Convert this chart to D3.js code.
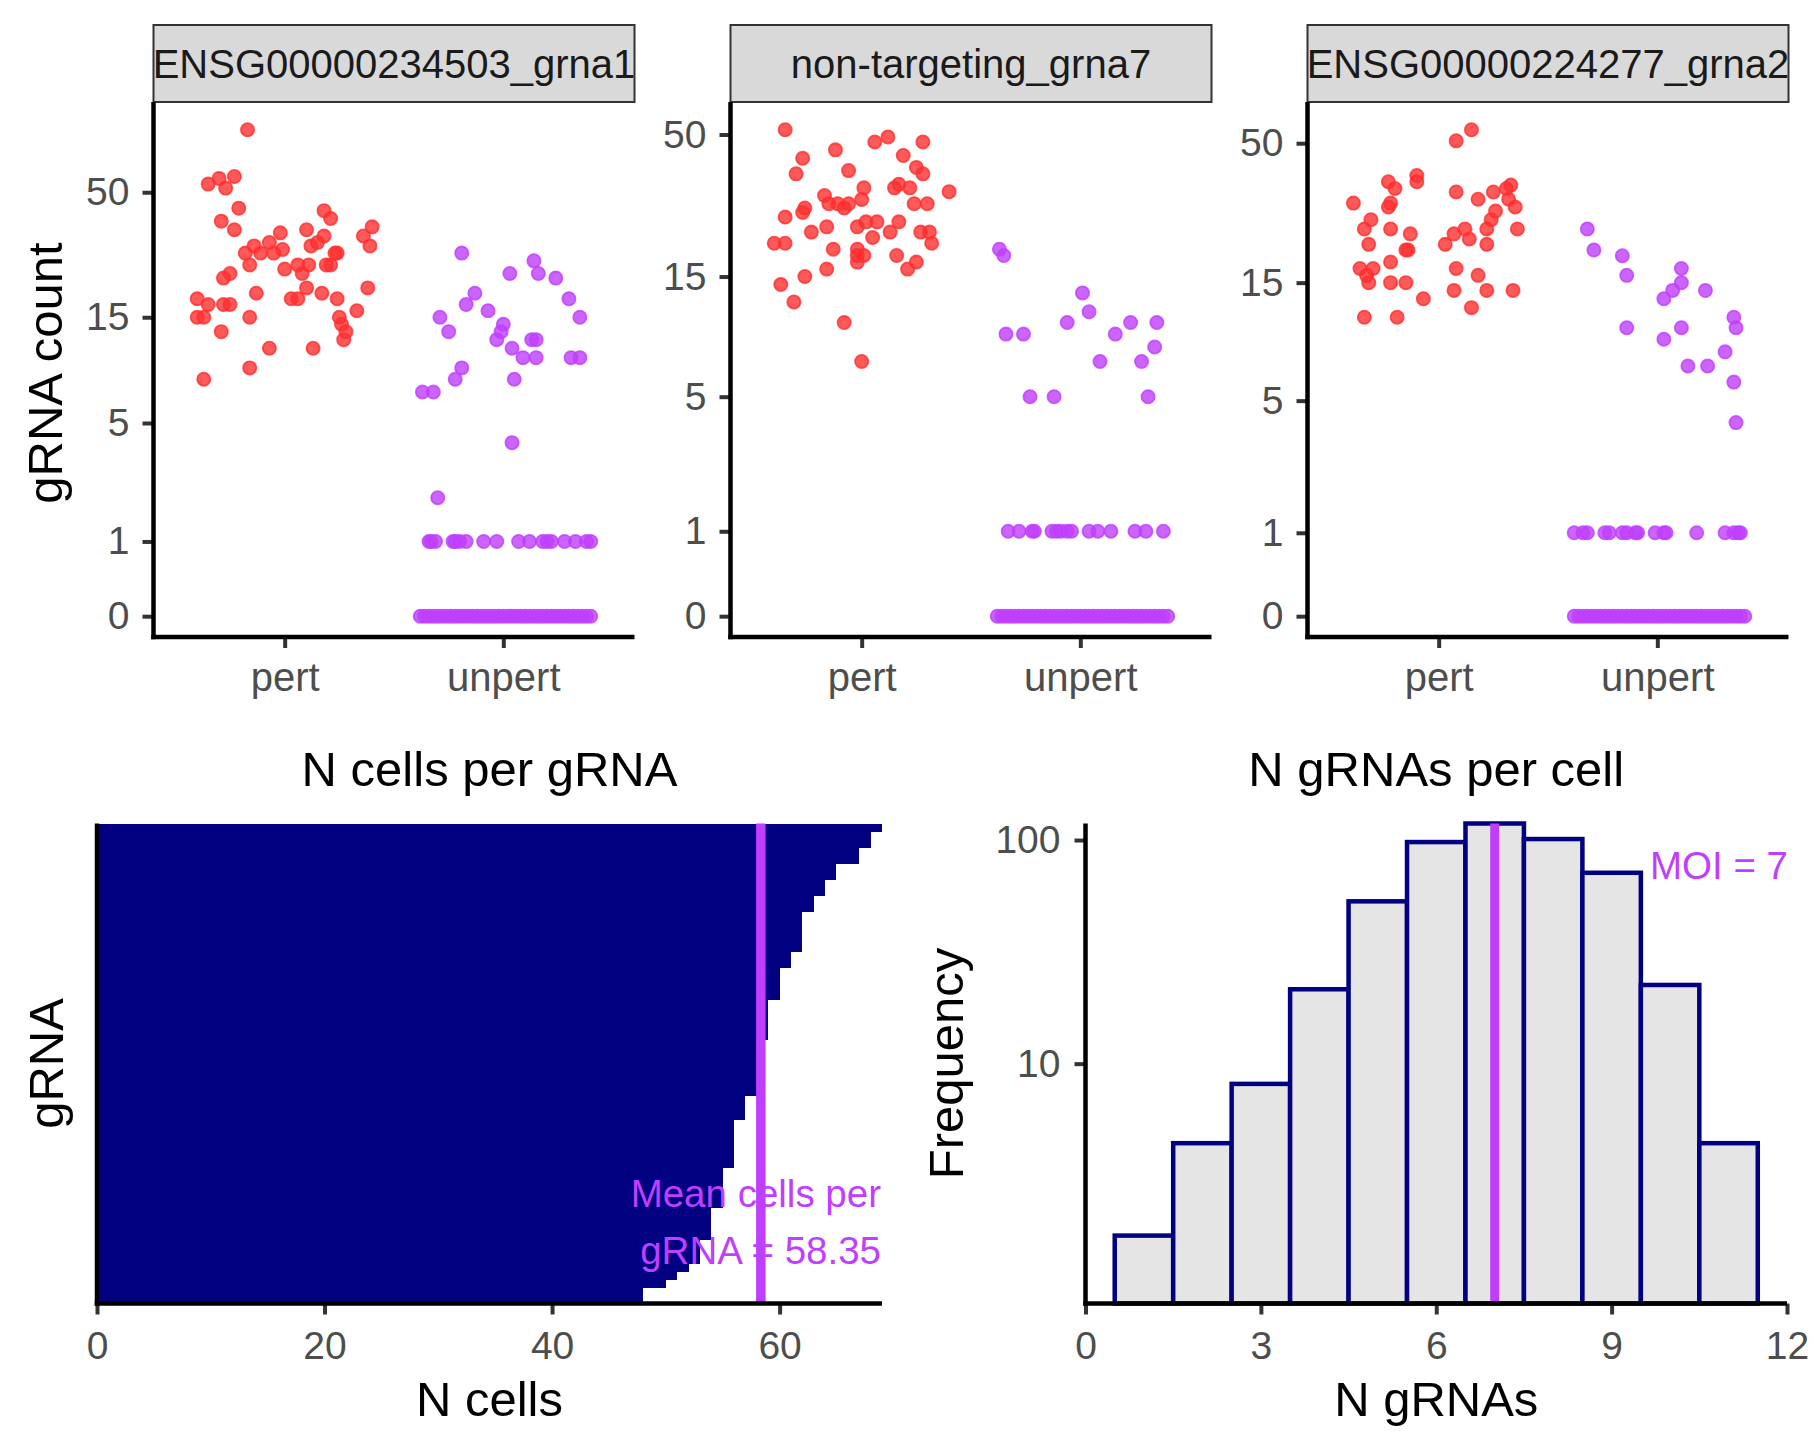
<!DOCTYPE html>
<html><head><meta charset="utf-8">
<script src="https://cdn.jsdelivr.net/npm/d3@7"></script>
<style>
html,body{margin:0;padding:0;background:#fff;}
svg{display:block;font-family:"Liberation Sans", Arial, Helvetica, sans-serif;}
</style></head><body>
<svg id="chart" width="1815" height="1452"></svg>
<script>
// ---------------- DATA ----------------
const facetNames = ["ENSG00000234503_grna1", "non-targeting_grna7", "ENSG00000224277_grna2"];
const groups = ["pert", "unpert"];
const yTickValues = [0, 1, 5, 15, 50];

// Facet 1
const p1PertValues = [90,54,57,58,52,43,38,35,42,39,36,33,30,34,35,33,31,29,30,28,28,28,30,31,28,28,25,25,25,23,24,25,25,22,23,19,20,19,20,18,17,17,17,18,18,18,15,15,15,15,16,14,13,12,13,11,11,9,8];
const p1PertJitter = [-0.17,-0.35,-0.30,-0.23,-0.27,-0.21,-0.29,-0.23,0.18,0.21,0.40,0.36,0.39,-0.02,0.10,0.18,-0.07,-0.01,-0.14,-0.18,-0.11,-0.05,0.12,0.15,0.24,0.23,-0.16,0.06,0.11,0.08,0.00,0.19,0.21,-0.28,-0.25,-0.13,0.10,0.17,0.38,-0.40,-0.35,-0.28,-0.25,0.03,0.06,0.24,-0.40,-0.37,-0.16,0.25,0.33,0.26,0.28,0.27,-0.29,-0.07,0.13,-0.16,-0.37];
const p1UnpertValues = [28,26,23,23,22,19,17,16,18,15,15,13,14,13,12,11,10,10,12,12,10,10,9,8,8,7,7,4,2];
const p1UnpertJitter = [-0.19,0.14,0.16,0.03,0.24,-0.13,-0.17,-0.07,0.30,0.35,-0.29,-0.25,0.00,-0.01,-0.03,0.04,0.09,0.15,0.13,0.15,0.31,0.35,-0.19,-0.22,0.05,-0.37,-0.32,0.04,-0.30];
const p1OnesJitter = [-0.34,-0.33,-0.31,-0.23,-0.22,-0.20,-0.17,-0.09,-0.03,0.07,0.12,0.18,0.20,0.22,0.28,0.33,0.38,0.40];

// Facet 2
const p2PertValues = [52,49,47,47,44,41,42,36,37,38,36,31,32,32,33,32,30,28,28,27,28,29,28,28,27,26,25,23,22,23,24,24,24,22,21,22,22,20,20,20,19,19,18,18,17,18,17,16,16,15,14,12,10,7];
const p2PertJitter = [-0.35,0.12,0.06,0.28,-0.12,-0.27,0.19,-0.30,-0.06,0.25,0.28,0.40,0.01,0.15,0.17,0.22,-0.17,-0.15,-0.11,-0.08,-0.06,0.00,0.24,0.30,-0.26,-0.27,-0.35,-0.16,-0.23,-0.02,0.02,0.07,0.17,0.13,0.05,0.27,0.31,0.32,-0.40,-0.35,-0.13,-0.02,-0.02,0.01,-0.02,0.16,0.25,0.21,-0.16,-0.26,-0.37,-0.31,-0.08,0.00];
const p2UnpertValues = [19,18,13,11,10,10,10,9,9,9,8,7,7,5,5,5];
const p2UnpertJitter = [-0.37,-0.35,0.01,0.04,-0.06,0.23,0.35,-0.34,-0.26,0.16,0.34,0.09,0.28,-0.23,-0.12,0.31];
const p2OnesJitter = [-0.33,-0.28,-0.22,-0.21,-0.13,-0.11,-0.09,-0.06,-0.04,0.04,0.08,0.14,0.25,0.30,0.38];

// Facet 3
const p3PertValues = [56,51,38,36,36,34,33,30,30,29,31,33,34,35,31,29,28,26,24,21,24,26,24,24,23,21,20,20,21,23,24,22,18,17,17,16,15,15,15,17,16,14,14,14,13,12,11,11];
const p3PertJitter = [0.15,0.08,-0.10,-0.10,-0.23,-0.20,0.08,-0.39,-0.22,-0.23,0.18,0.25,0.31,0.33,0.32,0.35,0.26,0.24,0.22,0.22,0.36,-0.31,-0.34,-0.22,-0.13,-0.32,-0.15,-0.14,0.03,0.07,0.12,0.14,-0.22,-0.36,-0.30,-0.33,-0.32,-0.22,-0.15,0.08,0.18,0.07,0.22,0.34,-0.07,0.15,-0.34,-0.19];
const p3UnpertValues = [24,20,19,16,17,15,14,13,14,11,10,10,10,9,8,7,7,6,4];
const p3UnpertJitter = [-0.32,-0.29,-0.16,-0.14,0.11,0.11,0.07,0.03,0.22,0.35,0.36,-0.14,0.11,0.03,0.31,0.14,0.23,0.35,0.36];
const p3OnesJitter = [-0.38,-0.34,-0.32,-0.24,-0.22,-0.16,-0.14,-0.10,-0.09,-0.01,0.03,0.04,0.18,0.31,0.35,0.37,0.38];

// Unperturbed cells with zero count (jittered along the zero line)
const zeroJitter = [-0.38,-0.36,-0.34,-0.32,-0.30,-0.28,-0.26,-0.24,-0.22,-0.20,-0.18,-0.16,-0.14,-0.12,-0.10,-0.08,-0.06,-0.04,-0.02,0.00,0.02,0.04,0.06,0.08,0.10,0.12,0.14,0.16,0.18,0.20,0.22,0.24,0.26,0.28,0.30,0.32,0.34,0.36,0.38,0.40];

// N cells per gRNA (60 gRNAs, sorted)
const cellsPerGrna = [69,68,68,67,67,65,65,64,64,63,63,62,62,62,62,62,61,61,60,60,60,60,59,59,59,59,59,58,58,58,58,58,58,58,57,57,57,56,56,56,56,56,56,55,55,55,55,55,54,54,54,54,53,53,53,52,51,50,48,48];
const meanCellsPerGrna = 58.35;
const cellsTicks = [0, 20, 40, 60];

// N gRNAs per cell histogram
const nGrnaBins = [1,2,3,4,5,6,7,8,9,10,11];
const nGrnaFreq = [1,4,8,22,54,98,118,101,72,23,4];
const moi = 7;
const histXTicks = [0, 3, 6, 9, 12];
const histYTicks = [10, 100];

// ---------------- STYLE ----------------
const RED = "#FF3030", PURPLE = "#BF3EFF", NAVY = "#000080";
const TICK_COL = "#333333", LABEL_COL = "#4D4D4D";
const svg = d3.select("#chart");
svg.append("rect").attr("width", 1815).attr("height", 1452).attr("fill", "#fff");

function styleAxis(g, fontSize) {
  g.select(".domain").remove();
  g.selectAll(".tick line").attr("stroke", TICK_COL).attr("stroke-width", 4);
  g.selectAll(".tick text").attr("fill", LABEL_COL).attr("font-size", fontSize)
    .attr("font-family", "Liberation Sans, Arial, sans-serif");
}

// ---------------- TOP: facets ----------------
const facetData = [
  {pv: p1PertValues, pj: p1PertJitter, uv: p1UnpertValues, uj: p1UnpertJitter, oj: p1OnesJitter},
  {pv: p2PertValues, pj: p2PertJitter, uv: p2UnpertValues, uj: p2UnpertJitter, oj: p2OnesJitter},
  {pv: p3PertValues, pj: p3PertJitter, uv: p3UnpertValues, uj: p3UnpertJitter, oj: p3OnesJitter}
];
const TOP = {stripTop: 25, y0: 102, y1: 637, w: 481, xs: [153.5, 730.5, 1307.5], shift: 3.5};

facetData.forEach((f, i) => {
  const x0 = TOP.xs[i];
  const g = svg.append("g");
  const x = d3.scaleLinear().domain([0.4, 2.6]).range([x0, x0 + TOP.w]);
  const maxV = d3.max(f.pv.concat(f.uv));
  const R = Math.log10(maxV + 1);
  const y = d3.scaleLinear().domain([-0.05 * R, 1.05 * R])
    .range([TOP.y1 + TOP.shift, TOP.y0 + TOP.shift]);
  const yv = v => y(Math.log10(v + 1));

  // strip
  g.append("rect").attr("x", x0).attr("y", TOP.stripTop).attr("width", TOP.w)
    .attr("height", TOP.y0 - TOP.stripTop).attr("fill", "#D9D9D9")
    .attr("stroke", "#333333").attr("stroke-width", 2);
  g.append("text").attr("x", x0 + TOP.w / 2).attr("y", 78).attr("text-anchor", "middle")
    .attr("font-size", 40).attr("fill", "#1A1A1A").text(facetNames[i]);

  // points
  const pts = [];
  zeroJitter.forEach(j => pts.push({c: 2, j, v: 0}));
  f.oj.forEach(j => pts.push({c: 2, j, v: 1}));
  f.uv.forEach((v, k) => pts.push({c: 2, j: f.uj[k], v}));
  f.pv.forEach((v, k) => pts.push({c: 1, j: f.pj[k], v}));
  g.append("g").selectAll("circle").data(pts).join("circle")
    .attr("cx", d => x(d.c + d.j)).attr("cy", d => yv(d.v)).attr("r", 6.6)
    .attr("fill", d => d.c === 1 ? RED : PURPLE).attr("fill-opacity", 0.8)
    .attr("stroke", d => d.c === 1 ? RED : PURPLE).attr("stroke-opacity", 0.8)
    .attr("stroke-width", 1.8);

  // axes
  const ya = g.append("g").attr("transform", `translate(${x0},0)`)
    .call(d3.axisLeft(y).tickValues(yTickValues.map(t => Math.log10(t + 1)))
      .tickFormat(d => Math.round(Math.pow(10, d) - 1)).tickSize(11).tickPadding(13));
  styleAxis(ya, 39);
  const xa = g.append("g").attr("transform", `translate(0,${TOP.y1})`)
    .call(d3.axisBottom(x).tickValues([1, 2]).tickFormat(d => groups[d - 1]).tickSize(11));
  styleAxis(xa, 40);
  xa.selectAll(".tick text").attr("y", 54).attr("dy", 0);
  g.append("line").attr("x1", x0).attr("x2", x0).attr("y1", TOP.y0).attr("y2", TOP.y1 + 2.25)
    .attr("stroke", "#000").attr("stroke-width", 4.5);
  g.append("line").attr("x1", x0 - 2.25).attr("x2", x0 + TOP.w).attr("y1", TOP.y1).attr("y2", TOP.y1)
    .attr("stroke", "#000").attr("stroke-width", 4.5);
});

svg.append("text").attr("transform", "translate(62,373) rotate(-90)").attr("text-anchor", "middle")
  .attr("font-size", 49).attr("fill", "#000").text("gRNA count");

// ---------------- BOTTOM LEFT: N cells per gRNA ----------------
const BL = {x0: 97, x1: 882, y0: 823.5, y1: 1303.5};
{
  const g = svg.append("g");
  const x = d3.scaleLinear().domain([0, 69]).range([BL.x0, BL.x1]);
  const order = d3.range(cellsPerGrna.length).sort((a, b) => cellsPerGrna[b] - cellsPerGrna[a]);
  const y = d3.scaleBand().domain(order).range([BL.y0, BL.y1]).padding(0);
  g.append("g").attr("shape-rendering", "crispEdges").selectAll("rect").data(order).join("rect")
    .attr("x", x(0)).attr("y", d => y(d)).attr("width", d => x(cellsPerGrna[d]) - x(0))
    .attr("height", y.bandwidth() + 0.3).attr("fill", NAVY);
  g.append("line").attr("x1", x(meanCellsPerGrna)).attr("x2", x(meanCellsPerGrna))
    .attr("y1", BL.y0).attr("y2", BL.y1).attr("stroke", PURPLE).attr("stroke-width", 9.5);
  const xa = g.append("g").attr("transform", `translate(0,${BL.y1})`)
    .call(d3.axisBottom(x).tickValues(cellsTicks).tickSize(11));
  styleAxis(xa, 39);
  xa.selectAll(".tick text").attr("y", 55).attr("dy", 0);
  g.append("line").attr("x1", BL.x0).attr("x2", BL.x0).attr("y1", BL.y0).attr("y2", BL.y1 + 2.25)
    .attr("stroke", "#000").attr("stroke-width", 4.5);
  g.append("line").attr("x1", BL.x0 - 2.25).attr("x2", BL.x1).attr("y1", BL.y1).attr("y2", BL.y1)
    .attr("stroke", "#000").attr("stroke-width", 4.5);
  g.append("text").attr("x", 881).attr("y", 1207).attr("text-anchor", "end").attr("font-size", 38.5)
    .attr("fill", PURPLE).text("Mean cells per");
  g.append("text").attr("x", 881).attr("y", 1264).attr("text-anchor", "end").attr("font-size", 38.5)
    .attr("fill", PURPLE).text("gRNA = " + meanCellsPerGrna.toFixed(2));
  g.append("text").attr("x", (BL.x0 + BL.x1) / 2).attr("y", 786).attr("text-anchor", "middle")
    .attr("font-size", 49).attr("fill", "#000").text("N cells per gRNA");
  g.append("text").attr("x", (BL.x0 + BL.x1) / 2).attr("y", 1416).attr("text-anchor", "middle")
    .attr("font-size", 49).attr("fill", "#000").text("N cells");
  g.append("text").attr("transform", `translate(63,${(BL.y0 + BL.y1) / 2}) rotate(-90)`)
    .attr("text-anchor", "middle").attr("font-size", 49).attr("fill", "#000").text("gRNA");
}

// ---------------- BOTTOM RIGHT: N gRNAs per cell ----------------
const BR = {x0: 1085.5, x1: 1787, y0: 823.5, y1: 1303.5, zeroY: 1305.5};
{
  const g = svg.append("g");
  const x = d3.scaleLinear().domain([0, 12]).range([BR.x0, BR.x1]);
  const maxF = d3.max(nGrnaFreq);
  const y = d3.scaleLinear().domain([0, Math.log10(maxF + 1)]).range([BR.zeroY, BR.y0]);
  const yv = v => y(Math.log10(v + 1));
  g.append("g").selectAll("rect").data(nGrnaBins).join("rect")
    .attr("x", d => x(d - 0.5)).attr("width", d => x(d + 0.5) - x(d - 0.5))
    .attr("y", (d, i) => yv(nGrnaFreq[i])).attr("height", (d, i) => BR.y1 - yv(nGrnaFreq[i]))
    .attr("fill", "#E5E5E5").attr("stroke", NAVY).attr("stroke-width", 4.5);
  g.append("line").attr("x1", x(moi)).attr("x2", x(moi)).attr("y1", BR.y0).attr("y2", BR.y1)
    .attr("stroke", PURPLE).attr("stroke-width", 9);
  const xa = g.append("g").attr("transform", `translate(0,${BR.y1})`)
    .call(d3.axisBottom(x).tickValues(histXTicks).tickSize(11));
  styleAxis(xa, 39);
  xa.selectAll(".tick text").attr("y", 55).attr("dy", 0);
  const ya = g.append("g").attr("transform", `translate(${BR.x0},0)`)
    .call(d3.axisLeft(y).tickValues(histYTicks.map(t => Math.log10(t + 1)))
      .tickFormat(d => Math.round(Math.pow(10, d) - 1)).tickSize(11).tickPadding(14));
  styleAxis(ya, 39);
  g.append("line").attr("x1", BR.x0).attr("x2", BR.x0).attr("y1", BR.y0).attr("y2", BR.y1 + 2.25)
    .attr("stroke", "#000").attr("stroke-width", 4.5);
  g.append("line").attr("x1", BR.x0 - 2.25).attr("x2", BR.x1).attr("y1", BR.y1).attr("y2", BR.y1)
    .attr("stroke", "#000").attr("stroke-width", 4.5);
  g.append("text").attr("x", 1788).attr("y", 879).attr("text-anchor", "end").attr("font-size", 38.5)
    .attr("fill", PURPLE).text("MOI = " + moi);
  g.append("text").attr("x", (BR.x0 + BR.x1) / 2).attr("y", 786).attr("text-anchor", "middle")
    .attr("font-size", 49).attr("fill", "#000").text("N gRNAs per cell");
  g.append("text").attr("x", (BR.x0 + BR.x1) / 2).attr("y", 1416).attr("text-anchor", "middle")
    .attr("font-size", 49).attr("fill", "#000").text("N gRNAs");
  g.append("text").attr("transform", `translate(963,${(BR.y0 + BR.y1) / 2}) rotate(-90)`)
    .attr("text-anchor", "middle").attr("font-size", 49).attr("fill", "#000").text("Frequency");
}
</script>
</body></html>
